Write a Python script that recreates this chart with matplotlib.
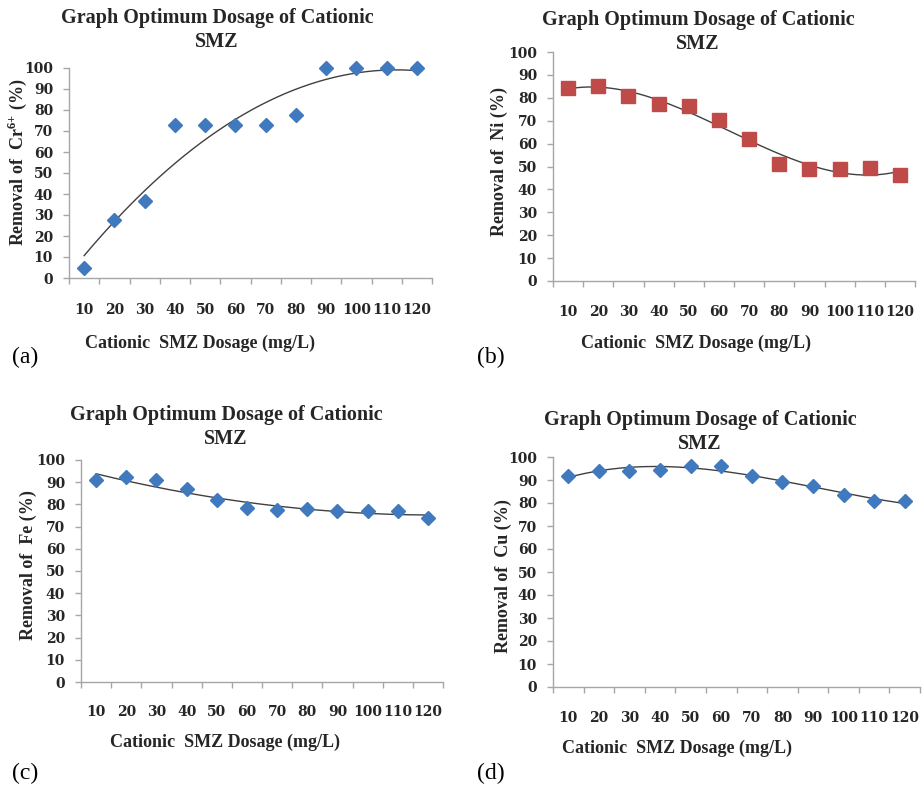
import numpy as np
import matplotlib
matplotlib.use("Agg")
import matplotlib.pyplot as plt
from matplotlib.font_manager import FontProperties
from matplotlib.transforms import Bbox, TransformedBbox, blended_transform_factory

plt.rcParams['font.family'] = ['Liberation Serif', 'DejaVu Serif']
plt.rcParams['mathtext.fontset'] = 'custom'
plt.rcParams['mathtext.rm'] = 'Liberation Serif'
plt.rcParams['mathtext.bf'] = 'Liberation Serif:bold'

# dosage categories (mg/L)
dosage = ['10', '20', '30', '40', '50', '60', '70', '80', '90', '100', '110', '120']

# removal (%)
cr_removal = [5, 27.5, 36.5, 73, 73, 73, 73, 77.5, 100, 100, 100, 100]
ni_removal = [84.2, 85.2, 81, 77.3, 76.3, 70.2, 62.2, 51.3, 48.9, 48.8, 49.2, 46.3]
fe_removal = [91, 92.2, 91, 86.8, 81.8, 78.2, 77.6, 78.1, 77.1, 77.1, 77.1, 73.8]
cu_removal = [91.8, 94.1, 94.1, 94.5, 96, 96.2, 91.9, 89, 87.3, 83.6, 80.8, 80.8]

W, H = 924, 788
fig = plt.figure(figsize=(W / 100, H / 100), dpi=100)

blue = '#4079BD'
red = '#BE4B48'
grey_axis = '#A6A6A6'
txt = '#262626'
tick_font = FontProperties(family='DejaVu Serif', weight='bold', size=10)


def px_axes(left, top, right, bottom):
    return fig.add_axes([left / W, 1 - bottom / H, (right - left) / W, (bottom - top) / H])


def panel(box, y, ylabel, marker, color, ms, order, xr, tick_y, title_xy, ylab_xy, xlab_xy, tag_xy, tag):
    ax = px_axes(*box)
    x = np.arange(1, len(y) + 1)
    ax.plot(x, y, linestyle='none', marker=marker, color=color, ms=ms, zorder=3, clip_on=False)
    coef = np.polyfit(x, y, order)
    xs = np.linspace(1, len(y), 200)
    ax.plot(xs, np.polyval(coef, xs), color='#404040', lw=1.0, zorder=2, clip_on=False)
    ax.set_xlim(0.5, xr)
    ax.set_ylim(0, 100)
    ax.set_yticks(range(0, 101, 10))
    ax.set_xticks(np.arange(0.5, 12.6, 1))
    ax.set_xticklabels([])
    for s in ['top', 'right']:
        ax.spines[s].set_visible(False)
    for s in ['left', 'bottom']:
        ax.spines[s].set_color(grey_axis)
        ax.spines[s].set_linewidth(1.0)
    ax.tick_params(axis='both', direction='out', length=4, width=1, color=grey_axis)
    ax.tick_params(axis='y', labelcolor=txt, pad=7.5)
    for lb in ax.get_yticklabels():
        lb.set_fontproperties(tick_font)
    # category labels sit well below the axis; the last one is cut at the frame edge
    tr = blended_transform_factory(ax.transData, fig.transFigure)
    cb = TransformedBbox(Bbox.from_extents(0, 0, (box[2] + 1) / W, 1), fig.transFigure)
    for i, lab in enumerate(dosage):
        t = fig.text(x[i], 1 - tick_y / H, lab, transform=tr, ha='center', va='center',
                     color=txt, fontproperties=tick_font)
        t.set_clip_on(True)
        t.set_clip_box(cb)
    fig.text(title_xy[0] / W, 1 - title_xy[1] / H, 'Graph Optimum Dosage of Cationic\nSMZ',
             ha='center', va='center', fontsize=14.5, fontweight='bold', color=txt, linespacing=1.3)
    fig.text(ylab_xy[0] / W, 1 - ylab_xy[1] / H, ylabel, rotation=90, ha='center', va='center',
             fontsize=13, fontweight='bold', color=txt)
    fig.text(xlab_xy[0] / W, 1 - xlab_xy[1] / H, 'Cationic  SMZ Dosage (mg/L)', ha='center', va='center',
             fontsize=13, fontweight='bold', color=txt)
    fig.text(tag_xy[0] / W, 1 - tag_xy[1] / H, tag, ha='left', va='center', fontsize=17, color='black')
    return ax


panel((69, 68, 432, 278), cr_removal, 'Removal of  Cr$^{\\mathbf{6}{\\mathbf{+}}}$ (%)', 'D', blue, 7.2, 2,
      12.35, 310, (217, 30), (17, 162), (200, 343), (12, 357), '(a)')
panel((553, 52, 915, 281), ni_removal, 'Removal of  Ni (%)', 's', red, 9.6, 3, 12.35, 312,
      (698, 32), (499, 162), (696, 343), (477, 357), '(b)')
panel((81, 460, 443, 682), fe_removal, 'Removal of  Fe (%)', 'D', blue, 7.2, 2, 12.36, 712,
      (226, 427), (28, 565), (225, 742), (12, 773), '(c)')
panel((553, 457, 920, 687), cu_removal, 'Removal of  Cu (%)', 'D', blue, 7.2, 3, 12.43, 718,
      (700, 432), (503, 576), (677, 748), (477, 773), '(d)')

fig.savefig('out.png', dpi=100)
